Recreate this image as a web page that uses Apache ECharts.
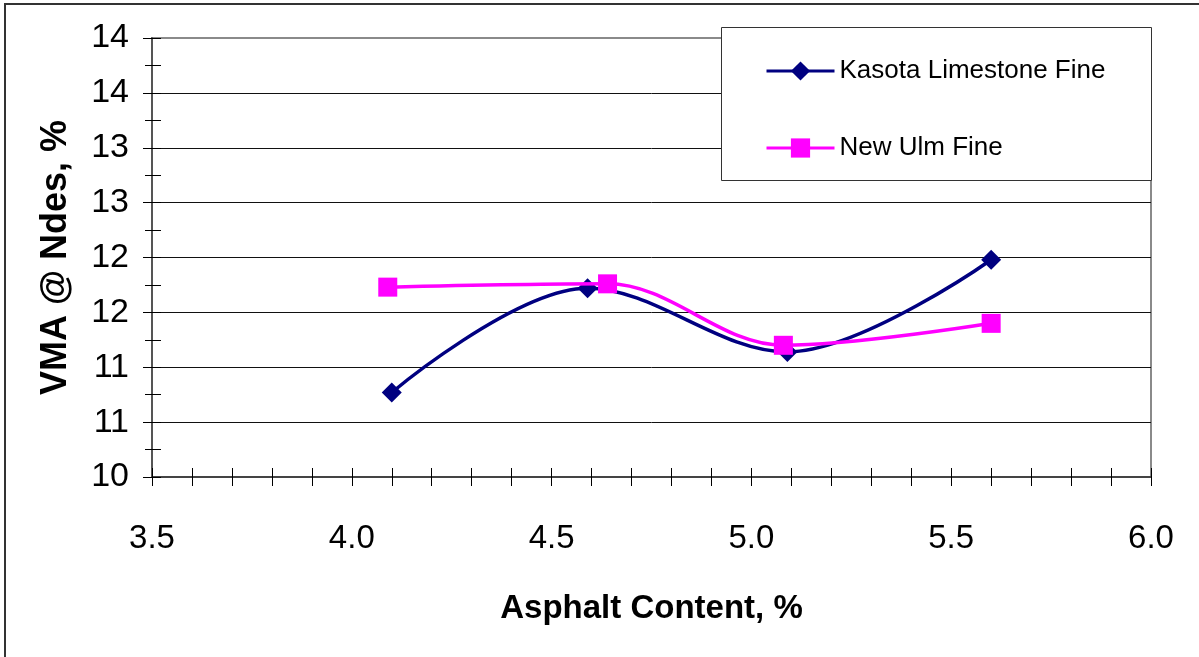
<!DOCTYPE html>
<html>
<head>
<meta charset="utf-8">
<script src="https://cdn.jsdelivr.net/npm/echarts@6/dist/echarts.min.js"></script>
<style>
html,body{margin:0;padding:0;background:#fff;}
#frame{position:absolute;left:4px;top:3px;width:1300px;height:800px;border-left:2px solid #333;border-top:2px solid #333;}
#chart{position:absolute;left:0;top:0;width:1199px;height:657px;}
</style>
</head>
<body>
<div id="frame"></div>
<div id="chart"></div>
<script>
// Data
const seriesNames = ['Kasota Limestone Fine', 'New Ulm Fine'];
const kasotaX = [4.10, 4.59, 5.09, 5.60];
const kasotaY = [10.77, 11.72, 11.14, 11.98];
const newUlmX = [4.09, 4.64, 5.08, 5.60];
const newUlmY = [11.73, 11.76, 11.20, 11.40];
const yTickLabels = ['10', '11', '11', '12', '12', '13', '13', '14', '14'];
const xTickLabels = ['3.5', '4.0', '4.5', '5.0', '5.5', '6.0'];
const xTitle = 'Asphalt Content, %';
const yTitle = 'VMA @ Ndes, %';

const pairs = (xs, ys) => xs.map((x, i) => [x, ys[i]]);
const FONT = '"Liberation Sans", Arial, sans-serif';

const chart = echarts.init(document.getElementById('chart'), null, {renderer: 'canvas'});
chart.setOption({
  animation: false,
  backgroundColor: 'transparent',
  grid: {left: 152, top: 38, right: 48, bottom: 180, show: true, borderColor: '#8a8a8a', borderWidth: 2, backgroundColor: 'transparent'},
  graphic: [{
    type: 'rect', left: 721, top: 27, z: 10,
    shape: {width: 430, height: 153},
    style: {fill: '#fff', stroke: '#333', lineWidth: 1}
  }],
  legend: {
    orient: 'vertical', left: 765, top: 58, z: 11,
    itemWidth: 68, itemHeight: 24, itemGap: 51,
    padding: 0,
    lineStyle: {width: 3},
    textStyle: {fontFamily: FONT, fontSize: 26, color: '#000', padding: [0, 0, 0, 0]},
    data: seriesNames
  },
  xAxis: [{
    type: 'value', min: 3.5, max: 6.0, interval: 0.5,
    axisLine: {show: true, onZero: false, lineStyle: {color: '#444', width: 2}},
    axisTick: {show: true, length: 9, lineStyle: {color: '#000', width: 1}},
    minorTick: {show: true, splitNumber: 5, length: 9, lineStyle: {color: '#000', width: 1}},
    axisLabel: {margin: 45, fontFamily: FONT, fontSize: 33, color: '#000',
      formatter: (v, i) => xTickLabels[i]},
    splitLine: {show: false},
    name: xTitle, nameLocation: 'middle', nameGap: 115,
    nameTextStyle: {fontFamily: FONT, fontSize: 33, fontWeight: 'bold', color: '#000'}
  }, {
    type: 'value', min: 3.5, max: 6.0, interval: 0.5, position: 'bottom',
    axisLine: {show: false},
    axisTick: {show: true, inside: true, length: 9, lineStyle: {color: '#000', width: 1}},
    minorTick: {show: true, splitNumber: 5, length: 9, lineStyle: {color: '#000', width: 1}},
    axisLabel: {show: false}, splitLine: {show: false}
  }],
  yAxis: [{
    type: 'value', min: 10, max: 14, interval: 0.5,
    axisLine: {show: true, onZero: false, lineStyle: {color: '#555', width: 2}},
    axisTick: {show: true, length: 9, lineStyle: {color: '#000', width: 1}},
    minorTick: {show: true, splitNumber: 2, length: 7, lineStyle: {color: '#000', width: 1}},
    axisLabel: {margin: 23, fontFamily: FONT, fontSize: 34, color: '#000',
      formatter: (v, i) => yTickLabels[i]},
    splitLine: {show: true, showMaxLine: false, showMinLine: false, lineStyle: {color: '#111', width: 1}},
    name: yTitle, nameLocation: 'middle', nameGap: 78, nameRotate: 90,
    nameTextStyle: {fontFamily: FONT, fontSize: 36, fontWeight: 'bold', color: '#000'}
  }, {
    type: 'value', min: 10, max: 14, interval: 0.5, position: 'left',
    axisLine: {show: false},
    axisTick: {show: true, inside: true, length: 9, lineStyle: {color: '#000', width: 1}},
    minorTick: {show: true, splitNumber: 2, length: 9, lineStyle: {color: '#000', width: 1}},
    axisLabel: {show: false}, splitLine: {show: false}
  }],
  series: [{
    name: seriesNames[0], type: 'line', xAxisIndex: 0, yAxisIndex: 0,
    data: pairs(kasotaX, kasotaY), smooth: 0.35,
    symbol: 'diamond', symbolSize: 20,
    lineStyle: {color: '#000080', width: 3.5},
    itemStyle: {color: '#000080'}, z: 3
  }, {
    name: seriesNames[1], type: 'line', xAxisIndex: 0, yAxisIndex: 0,
    data: pairs(newUlmX, newUlmY), smooth: 0.35,
    symbol: 'rect', symbolSize: 19,
    lineStyle: {color: '#FF00FF', width: 3.5},
    itemStyle: {color: '#FF00FF'}, z: 4
  }]
});
</script>
</body>
</html>
